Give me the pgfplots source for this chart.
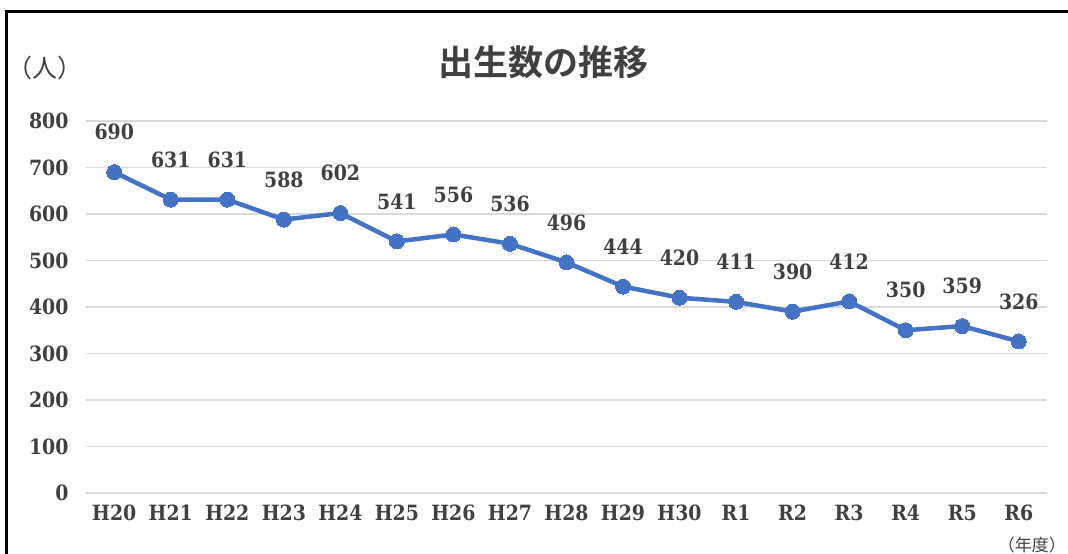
\documentclass[border=0pt]{standalone}
\usepackage{pgfplots}
\pgfplotsset{compat=1.18}
\usepackage{fontspec}
\setmainfont{DejaVu Serif Condensed}[BoldFont={DejaVu Serif Condensed Bold}]
\newfontfamily\cjk{Noto Sans CJK JP}[BoldFont={Noto Sans CJK JP Bold}]
\definecolor{txt}{HTML}{404040}
\definecolor{ln}{HTML}{4472C4}
\definecolor{gridc}{HTML}{D9D9D9}
\pgfplotstableread{
idx val
0 690
1 631
2 631
3 588
4 602
5 541
6 556
7 536
8 496
9 444
10 420
11 411
12 390
13 412
14 350
15 359
16 326
}\births
\begin{document}
\begin{tikzpicture}[x=1pt,y=1pt]
\path[use as bounding box] (0,0) rectangle (1068,554);
\draw[line width=3pt,black] (6,0) -- (6,542) -- (1068,542);
\node[txt,font=\cjk\bfseries\fontsize{35}{40}\selectfont] at (543,492) {出生数の推移};
\node[txt,font=\cjk\fontsize{25}{28}\selectfont] at (45,486) {（人）};
\node[txt,inner sep=0pt,anchor=south east,font=\cjk\fontsize{17}{20}\selectfont] at (1066,1) {（年度）};
\begin{axis}[
  at={(86pt,61pt)}, anchor=south west,
  scale only axis, width=961pt, height=372pt,
  xmin=-0.5, xmax=16.5, ymin=0, ymax=800,
  xtick={0,...,16},
  xticklabels={H20,H21,H22,H23,H24,H25,H26,H27,H28,H29,H30,R1,R2,R3,R4,R5,R6},
  ytick={0,100,...,800},
  ymajorgrids, grid style={gridc,line width=1.5pt},
  axis line style={draw=none},
  major tick length=0pt,
  tick label style={txt,font=\bfseries\fontsize{21}{24}\selectfont},
  /pgf/number format/assume math mode=true,
  yticklabel style={anchor=east,xshift=-14pt},
  xticklabel style={anchor=center,yshift=-20pt},
  clip=false,
]
\addplot[color=ln,line width=4.5pt,mark=*,mark size=7.5pt,
  mark options={fill=ln,draw=ln,line width=0pt},
  nodes near coords, point meta=explicit,
  every node near coord/.append style={txt,anchor=center,yshift=40pt,font=\bfseries\fontsize{21}{24}\selectfont}]
  table[x=idx,y=val,meta=val] {\births};
\end{axis}
\end{tikzpicture}
\end{document}
